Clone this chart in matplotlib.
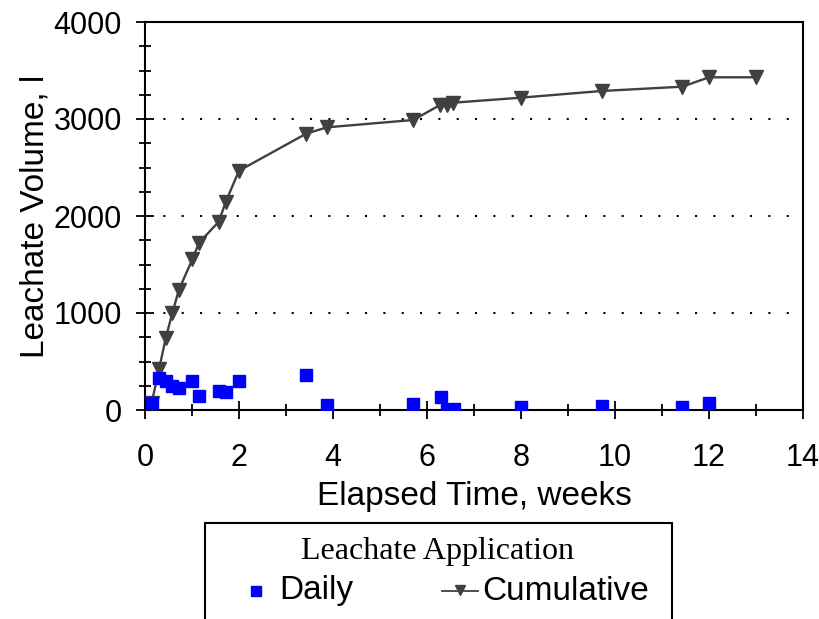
import matplotlib.pyplot as plt
from matplotlib.patches import Rectangle
from matplotlib.ticker import MultipleLocator

# daily leachate applied (l) and running total, by elapsed weeks
daily_weeks = [0.14, 0.30, 0.44, 0.58, 0.72, 1.01, 1.15, 1.57, 1.72, 2.00,
               3.43, 3.87, 5.71, 6.29, 6.43, 6.57, 8.00, 9.72, 11.43, 12.00]
daily_volume = [75, 327, 299, 247, 223, 299, 148, 196, 189, 299,
                361, 52, 59, 137, 0, 15, 34, 45, 34, 69]

cum_weeks = [0.14, 0.30, 0.44, 0.58, 0.72, 1.01, 1.15, 1.57, 1.72, 2.00,
             3.43, 3.87, 5.71, 6.28, 6.42, 6.56, 8.00, 9.72, 11.43, 12.00, 12.99]
cum_volume = [69, 423, 739, 997, 1237, 1557, 1725, 1941, 2148, 2467,
              2849, 2914, 2990, 3145, 3145, 3168, 3220, 3289, 3333, 3430, 3430]

plt.rcParams['font.family'] = ['Liberation Sans', 'DejaVu Sans']

fig = plt.figure(figsize=(8.2, 6.19), dpi=100)
ax = fig.add_axes([145 / 820, 1 - 410 / 619, 658 / 820, 388 / 619])

ax.plot(cum_weeks, cum_volume, color='#404040', lw=1.7, marker='v',
        markersize=9.5, markerfacecolor='#404040', markeredgecolor='#404040',
        zorder=3, label='Cumulative')
ax.plot(daily_weeks, daily_volume, ls='none', marker='s', markersize=8.5,
        color='#0000ff', markeredgecolor='#0000ff', zorder=4, label='Daily')

ax.set_xlim(0, 14)
ax.set_ylim(0, 4000)
ax.xaxis.set_major_locator(MultipleLocator(2))
ax.xaxis.set_minor_locator(MultipleLocator(1))
ax.yaxis.set_major_locator(MultipleLocator(1000))
ax.yaxis.set_minor_locator(MultipleLocator(250))
ax.tick_params(which='both', direction='inout', width=1.3, labelsize=22,
               top=False, right=False)
ax.tick_params(which='major', length=13)
ax.tick_params(which='minor', length=9)
ax.tick_params(axis='x', which='both', pad=17)
ax.tick_params(axis='y', which='both', pad=10)
for s in ax.spines.values():
    s.set_linewidth(1.5)

for yv in (1000, 2000, 3000):
    ax.axhline(yv, color='black', lw=1.5, ls=(0, (1, 7.8)), zorder=1)

ax.set_xlabel('Elapsed Time, weeks', fontsize=24, labelpad=6)
ax.set_ylabel('Leachate Volume, l', fontsize=24, labelpad=2)

# legend box running off the bottom edge
box = Rectangle((205 / 820, -0.05), (672 - 205) / 820, 1 - 523 / 619 + 0.05,
                transform=fig.transFigure, fill=False, lw=1.5, ec='black',
                clip_on=False)
fig.add_artist(box)
fig.text(438 / 820, 1 - 552 / 619, 'Leachate Application', ha='center',
         va='center', fontsize=23, family='Liberation Serif')
fig.lines.append(plt.Line2D([256 / 820], [1 - 591 / 619], ls='none',
                            marker='s', markersize=7.5, color='#0000ff',
                            transform=fig.transFigure))
fig.text(279 / 820, 1 - 591 / 619, 'Daily', ha='left', va='center',
         fontsize=24)
fig.lines.append(plt.Line2D([442 / 820, 478 / 820], [1 - 591 / 619] * 2,
                            color='#404040', lw=1.3,
                            transform=fig.transFigure))
fig.lines.append(plt.Line2D([460 / 820], [1 - 590 / 619], ls='none',
                            marker='v', markersize=6.5, color='#404040',
                            transform=fig.transFigure))
fig.text(482 / 820, 1 - 591 / 619, 'Cumulative', ha='left', va='center',
         fontsize=24)

fig.savefig('out.png', dpi=100)
